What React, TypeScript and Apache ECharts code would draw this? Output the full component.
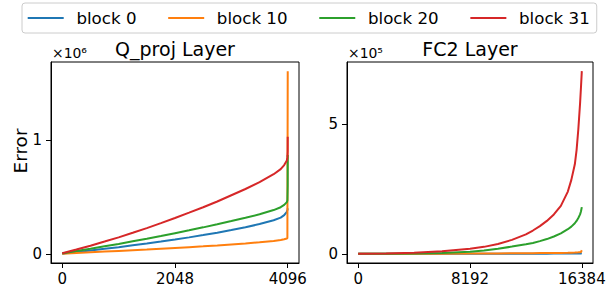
import React, { useEffect, useRef } from "react";
import * as echarts from "echarts";

const SERIES_NAMES = ["block 0", "block 10", "block 20", "block 31"];
const COLORS = ["#1f77b4", "#ff7f0e", "#2ca02c", "#d62728"];

// Q_proj layer (values in units of 1e6)
const Q_X = [0, 256, 512, 768, 1024, 1280, 1536, 1792, 2048, 2304, 2560, 2816, 3072, 3328, 3584, 3840, 3968, 4032, 4080, 4090, 4095, 4096];
const Q_B0 = [0.003, 0.016, 0.03, 0.044, 0.059, 0.075, 0.091, 0.108, 0.126, 0.145, 0.165, 0.186, 0.209, 0.234, 0.262, 0.295, 0.318, 0.34, 0.37, 0.385, 0.39, 0.4];
const Q_B10 = [0.002, 0.008, 0.014, 0.02, 0.026, 0.032, 0.038, 0.045, 0.052, 0.059, 0.066, 0.074, 0.083, 0.092, 0.102, 0.114, 0.122, 0.128, 0.135, 0.14, 0.145, 1.606];
const Q_B20 = [0.004, 0.025, 0.045, 0.066, 0.087, 0.11, 0.133, 0.157, 0.182, 0.207, 0.233, 0.26, 0.288, 0.317, 0.348, 0.385, 0.41, 0.43, 0.455, 0.47, 0.6, 0.87];
const Q_B31 = [0.005, 0.038, 0.072, 0.108, 0.145, 0.185, 0.226, 0.27, 0.315, 0.362, 0.41, 0.46, 0.515, 0.57, 0.63, 0.7, 0.745, 0.78, 0.82, 0.85, 0.9, 1.03];

// FC2 layer (values in units of 1e5)
const F_X = [0, 2048, 4096, 6144, 8192, 9216, 10240, 11264, 12288, 12800, 13312, 13824, 14336, 14848, 15360, 15616, 15872, 16000, 16128, 16256, 16320, 16384];
const F_B0 = [0, 0.001, 0.002, 0.003, 0.004, 0.005, 0.006, 0.007, 0.008, 0.008, 0.009, 0.009, 0.01, 0.011, 0.012, 0.013, 0.014, 0.014, 0.015, 0.016, 0.018, 0.02];
const F_B10 = [0, 0.002, 0.005, 0.008, 0.012, 0.015, 0.018, 0.021, 0.025, 0.027, 0.029, 0.031, 0.034, 0.037, 0.042, 0.045, 0.05, 0.053, 0.058, 0.065, 0.075, 0.14];
const F_B20 = [0, 0.005, 0.015, 0.035, 0.08, 0.13, 0.2, 0.28, 0.37, 0.42, 0.49, 0.57, 0.67, 0.79, 0.95, 1.05, 1.18, 1.27, 1.38, 1.52, 1.63, 1.8];
const F_B31 = [0, 0.01, 0.04, 0.1, 0.2, 0.27, 0.38, 0.54, 0.75, 0.9, 1.07, 1.27, 1.52, 1.85, 2.4, 2.85, 3.45, 4.0, 4.8, 5.8, 6.4, 7.04];

const Q_X_TICKS = [0, 2048, 4096];
const Q_Y_TICKS = [0, 1];
const F_X_TICKS = [0, 8192, 16384];
const F_Y_TICKS = [0, 5];

const FONT = "DejaVu Sans";

function pairs(xs: number[], ys: number[]) {
  return xs.map((x, i) => [x, ys[i]]);
}

export default function App() {
  const ref = useRef<HTMLDivElement>(null);
  useEffect(() => {
    if (!ref.current) return;
    const chart = echarts.init(ref.current, null, { renderer: "svg" });
    const axisCommon = (ticks: number[], margin: number) => ({
      type: "value",
      axisLine: { show: true, onZero: false, lineStyle: { color: "#000", width: 1 } },
      axisTick: { show: true, inside: false, length: 5, lineStyle: { color: "#000", width: 1 }, customValues: ticks },
      axisLabel: { customValues: ticks, color: "#000", fontSize: 15, fontFamily: FONT, margin, formatter: (v: number) => String(v) },
      splitLine: { show: false },
    });
    const qSeries = [Q_B0, Q_B10, Q_B20, Q_B31];
    const fSeries = [F_B0, F_B10, F_B20, F_B31];
    const series: any[] = [];
    qSeries.forEach((ys, i) =>
      series.push({
        type: "line",
        name: SERIES_NAMES[i],
        xAxisIndex: 0,
        yAxisIndex: 0,
        data: pairs(Q_X, ys),
        showSymbol: false,
        symbol: "none",
        color: COLORS[i],
        lineStyle: { width: 2, color: COLORS[i] },
        itemStyle: { color: COLORS[i] },
      })
    );
    fSeries.forEach((ys, i) =>
      series.push({
        type: "line",
        name: SERIES_NAMES[i],
        xAxisIndex: 1,
        yAxisIndex: 1,
        data: pairs(F_X, ys),
        showSymbol: false,
        symbol: "none",
        color: COLORS[i],
        lineStyle: { width: 2, color: COLORS[i] },
        itemStyle: { color: COLORS[i] },
      })
    );
    const option: any = {
      animation: false,
      textStyle: { fontFamily: FONT },
      legend: {
        data: SERIES_NAMES,
        left: 22,
        top: 3,
        orient: "horizontal",
        icon: "rect",
        itemWidth: 36,
        itemHeight: 2,
        itemGap: 31.7,
        padding: [5, 7, 5, 5.7],
        backgroundColor: "rgba(255,255,255,0.8)",
        borderColor: "#cccccc",
        borderWidth: 1,
        borderRadius: 3,
        textStyle: { fontFamily: FONT, fontSize: 16.67, color: "#000", padding: [0, 0, 0, 7.7], lineHeight: 20 },
      },
      grid: [
        { left: 51, top: 62, width: 248, height: 201, show: true, borderColor: "#000", borderWidth: 1, containLabel: false, outerBoundsMode: "none" },
        { left: 347, top: 62, width: 246, height: 201, show: true, borderColor: "#000", borderWidth: 1, containLabel: false, outerBoundsMode: "none" },
      ],
      xAxis: [
        { ...axisCommon(Q_X_TICKS, 8), gridIndex: 0, min: -204.8, max: 4300.8 },
        { ...axisCommon(F_X_TICKS, 8), gridIndex: 1, min: -819.2, max: 17203.2 },
      ],
      yAxis: [
        { ...axisCommon(Q_Y_TICKS, 9), gridIndex: 0, min: -0.0803, max: 1.6863 },
        { ...axisCommon(F_Y_TICKS, 9), gridIndex: 1, min: -0.352, max: 7.392 },
      ],
      graphic: [
        { type: "text", x: 175, y: 48.5, style: { text: "Q_proj Layer", font: `19px ${FONT}`, fill: "#000", align: "center", verticalAlign: "middle" } },
        { type: "text", x: 470, y: 48.5, style: { text: "FC2 Layer", font: `19px ${FONT}`, fill: "#000", align: "center", verticalAlign: "middle" } },
        { type: "text", x: 52, y: 53, style: { text: "×10⁶", font: `13.9px ${FONT}`, fill: "#000", align: "left", verticalAlign: "middle" } },
        { type: "text", x: 348, y: 53, style: { text: "×10⁵", font: `13.9px ${FONT}`, fill: "#000", align: "left", verticalAlign: "middle" } },
        { type: "text", x: 20, y: 151, rotation: Math.PI / 2, style: { text: "Error", font: `18.5px ${FONT}`, fill: "#000", align: "center", verticalAlign: "middle" } },
      ],
      series,
    };
    chart.setOption(option);
    return () => chart.dispose();
  }, []);
  return <div ref={ref} style={{ position: "absolute", left: 0, top: 0, width: 616, height: 291 }} />;
}
